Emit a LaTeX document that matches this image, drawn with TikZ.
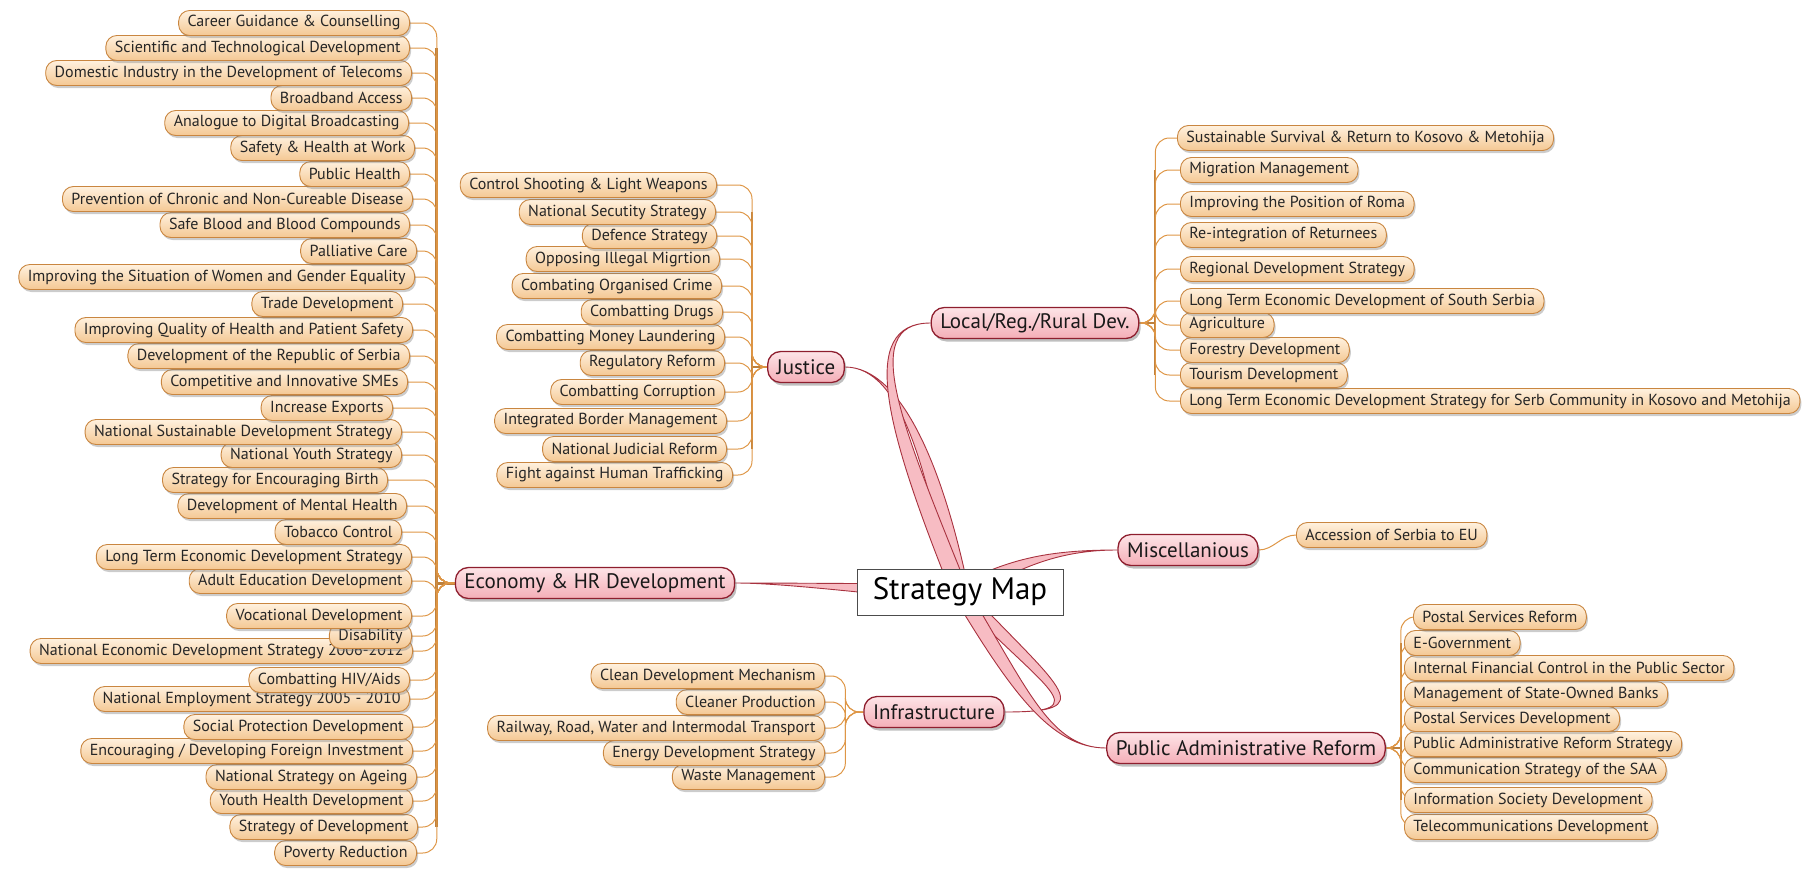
\documentclass[tikz,border=0pt]{standalone}
\usepackage{fontspec}
\setmainfont{PT Sans}
\usetikzlibrary{shadows,backgrounds}

\definecolor{leaftop}{HTML}{FFF1DE}
\definecolor{leafbot}{HTML}{F4C894}
\definecolor{leafline}{HTML}{C98640}
\definecolor{twigcol}{HTML}{DE9646}
\definecolor{topictop}{HTML}{FDE4E7}
\definecolor{topicbot}{HTML}{F4AEB7}
\definecolor{topicline}{HTML}{8E1E2E}
\definecolor{bandfill}{HTML}{F7BCC3}
\definecolor{bandline}{HTML}{A8323F}

\begin{document}
\begin{tikzpicture}[x=1pt,y=-1pt,
  leafbox/.style={draw=leafline,line width=0.9pt,top color=leaftop,bottom color=leafbot,
    rounded corners=11pt,minimum height=25pt,inner xsep=9pt,inner ysep=0pt,text=black!85,
    font=\fontsize{16}{18}\selectfont,
    drop shadow={opacity=0.4,shadow xshift=1.5pt,shadow yshift=-2.5pt}},
  topicbox/.style={draw=topicline,line width=1.3pt,top color=topictop,bottom color=topicbot,
    rounded corners=13pt,minimum height=31pt,inner xsep=9pt,inner ysep=0pt,text=black!90,
    font=\fontsize{21}{24}\selectfont,
    drop shadow={opacity=0.5,shadow xshift=2pt,shadow yshift=-3pt}},
  centerbox/.style={draw=black!70,fill=white,line width=0.9pt,minimum width=206pt,
    minimum height=46pt,font=\fontsize{31}{36}\selectfont},
  twig/.style={draw=twigcol,line width=1pt,rounded corners=14pt},
  trunk/.style={draw=twigcol!85!black,line width=#1,rounded corners=14pt},
  band/.style={fill=bandfill,draw=bandline,line width=0.9pt}]

\useasboundingbox (0,0) rectangle (1816,870);

\node[topicbox] (eco) at (595,583) {Economy \& HR Development};
\node[topicbox] (jus) at (806,367) {Justice};
\node[topicbox] (loc) at (1035,323) {Local/Reg./Rural Dev.};
\node[topicbox] (inf) at (934,712) {Infrastructure};
\node[topicbox] (mis) at (1188,550) {Miscellanious};
\node[topicbox] (par) at (1246,748) {Public Administrative Reform};
\node[centerbox] (map) at (960,592) {Strategy Map};

\node[leafbox,anchor=west] (acc) at (1296,535) {Accession of Serbia to EU};

\foreach \y/\x/\t [count=\i] in {
  853/417/{Poverty Reduction},
  827/418/{Strategy of Development},
  801/413/{Youth Health Development},
  777/417/{National Strategy on Ageing},
  751/413/{Encouraging / Developing Foreign Investment},
  727/413/{Social Protection Development},
  699/410/{National Employment Strategy 2005 - 2010},
  680/410/{Combatting HIV/Aids},
  651/413/{National Economic Development Strategy 2006-2012},
  636/412/{Disability},
  616/412/{Vocational Development},
  581/412/{Adult Education Development},
  557/412/{Long Term Economic Development Strategy},
  532/402/{Tobacco Control},
  506/407/{Development of Mental Health},
  480/388/{Strategy for Encouraging Birth},
  455/402/{National Youth Strategy},
  432/402/{National Sustainable Development Strategy},
  408/393/{Increase Exports},
  382/408/{Competitive and Innovative SMEs},
  356/410/{Development of the Republic of Serbia},
  330/413/{Improving Quality of Health and Patient Safety},
  304/403/{Trade Development},
  277/415/{Improving the Situation of Women and Gender Equality},
  251/417/{Palliative Care},
  225/410/{Safe Blood and Blood Compounds},
  199/413/{Prevention of Chronic and Non-Cureable Disease},
  174/410/{Public Health},
  148/415/{Safety \& Health at Work},
  123/409/{Analogue to Digital Broadcasting},
  98/412/{Broadband Access},
  73/412/{Domestic Industry in the Development of Telecoms},
  48/410/{Scientific and Technological Development},
  23/410/{Career Guidance \& Counselling}}
  \node[leafbox,anchor=east] (e\i) at (\x,\y) {\t};

\foreach \y/\x/\t [count=\i] in {
  475/733/{Fight against Human Trafficking},
  449/727/{National Judicial Reform},
  421/727/{Integrated Border Management},
  392/725/{Combatting Corruption},
  363/725/{Regulatory Reform},
  337/725/{Combatting Money Laundering},
  312/723/{Combatting Drugs},
  286/722/{Combating Organised Crime},
  259/720/{Opposing Illegal Migrtion},
  236/717/{Defence Strategy},
  212/716/{National Secutity Strategy},
  185/717/{Control Shooting \& Light Weapons}}
  \node[leafbox,anchor=east] (j\i) at (\x,\y) {\t};

\foreach \y/\x/\t [count=\i] in {
  401/1180/{Long Term Economic Development Strategy for Serb Community in Kosovo and Metohija},
  375/1180/{Tourism Development},
  350/1180/{Forestry Development},
  325/1180/{Agriculture},
  301/1180/{Long Term Economic Development of South Serbia},
  269/1180/{Regional Development Strategy},
  235/1180/{Re-integration of Returnees},
  204/1180/{Improving the Position of Roma},
  170/1180/{Migration Management},
  138/1177/{Sustainable Survival \& Return to Kosovo \& Metohija}}
  \node[leafbox,anchor=west] (l\i) at (\x,\y) {\t};

\foreach \y/\t [count=\i] in {
  777/{Waste Management},
  753/{Energy Development Strategy},
  728/{Railway, Road, Water and Intermodal Transport},
  702/{Cleaner Production},
  676/{Clean Development Mechanism}}
  \node[leafbox,anchor=east] (i\i) at (825,\y) {\t};

\foreach \y/\x/\t [count=\i] in {
  827/1404/{Telecommunications Development},
  800/1404/{Information Society Development},
  770/1404/{Communication Strategy of the SAA},
  744/1404/{Public Administrative Reform Strategy},
  719/1404/{Postal Services Development},
  694/1404/{Management of State-Owned Banks},
  668/1404/{Internal Financial Control in the Public Sector},
  643/1404/{E-Government},
  617/1413/{Postal Services Reform}}
  \node[leafbox,anchor=west] (p\i) at (\x,\y) {\t};

\coordinate (et) at ([xshift=-18pt]eco.west);
\coordinate (jt) at ([xshift=-15pt]jus.west);
\coordinate (lt) at ([xshift=16pt]loc.east);
\coordinate (pt) at ([xshift=15pt]par.east);

\begin{scope}[on background layer]
  \draw[band] (eco.east) .. controls +(60,0) and +(-45,0) .. ([yshift=8]map.center)
    -- ([yshift=-8]map.center) .. controls +(-45,0) and +(60,0) .. (eco.east) -- cycle;
  \draw[band] (mis.west) .. controls +(-70,0) and +(50,-25) .. ([yshift=8]map.center)
    -- ([yshift=-8]map.center) .. controls +(50,-25) and +(-70,0) .. (mis.west) -- cycle;
  \draw[band] (jus.east) .. controls +(57,0) and +(-25,-122) .. ([xshift=-9]map.center)
    -- ([xshift=9]map.center) .. controls +(-25,-122) and +(57,0) .. (jus.east) -- cycle;
  \draw[band] (loc.west) .. controls +(-74,0) and +(-65,-162) .. ([xshift=-9]map.center)
    -- ([xshift=9]map.center) .. controls +(-65,-162) and +(-74,0) .. (loc.west) -- cycle;
  \draw[band] (inf.east) .. controls +(95,0) and +(95,100) .. ([xshift=-9]map.center)
    -- ([xshift=9]map.center) .. controls +(95,100) and +(95,0) .. (inf.east) -- cycle;
  \draw[band] (par.west) .. controls +(-55,0) and +(60,100) .. ([xshift=-9]map.center)
    -- ([xshift=9]map.center) .. controls +(60,100) and +(-55,0) .. (par.west) -- cycle;

  \draw[trunk=3pt] (eco.west) -- (et);
  \draw[trunk=3pt] (et |- e33.east) -- (et) -- (et |- e2.east);
  \draw[trunk=1.8pt] (jus.west) -- (jt);
  \draw[trunk=1.8pt] (jt |- j11.east) -- (jt) -- (jt |- j2.east);
  \draw[trunk=1.8pt] (loc.east) -- (lt);
  \draw[trunk=1.8pt] (lt |- l9.east) -- (lt) -- (lt |- l2.east);
  \draw[trunk=1.8pt] (par.east) -- (pt);
  \draw[trunk=1.8pt] (pt |- p8.east) -- (pt) -- (pt |- p2.east);

  \foreach \i in {1,...,34}
    \draw[twig] (eco.west) -- (et) |- (e\i.east);
  \foreach \i in {1,...,12}
    \draw[twig] (jus.west) -- (jt) |- (j\i.east);
  \foreach \i in {1,...,10}
    \draw[twig] (loc.east) -- (lt) |- (l\i.west);
  \foreach \i in {1,...,5}
    \draw[twig] (inf.west) -- ++(-18,0) |- (i\i.east);
  \foreach \i in {1,...,9}
    \draw[twig] (par.east) -- (pt) |- (p\i.west);
  \draw[twig] (mis.east) .. controls +(15,0) and +(-15,0) .. (acc.west);
\end{scope}

\end{tikzpicture}
\end{document}
